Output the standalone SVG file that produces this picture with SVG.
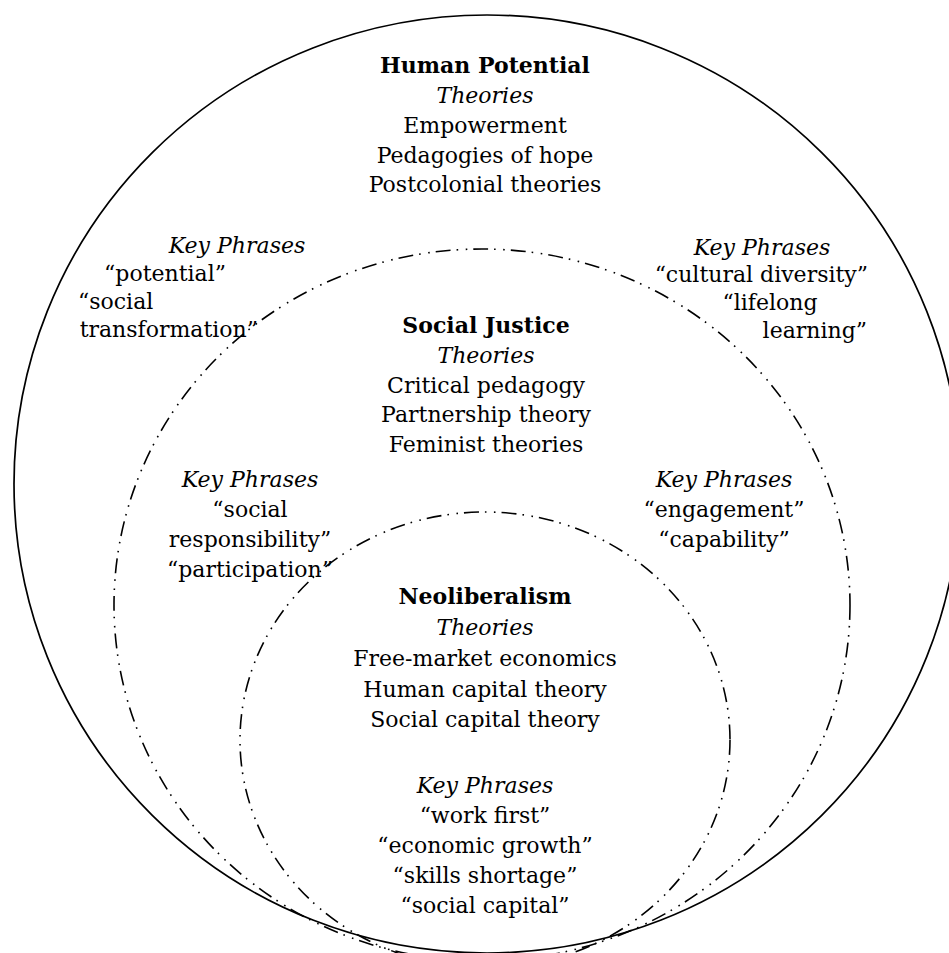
<svg xmlns="http://www.w3.org/2000/svg" width="949" height="953" viewBox="0 0 949 953">
<style>
  .bg { fill: #ffffff; }
  .solid { fill: none; stroke: #000; stroke-width: 1.7; }
  .dd { fill: none; stroke: #000; stroke-width: 1.6; stroke-dasharray: 15 6 1.6 7.5 1.6 6; }
  text { font-family: "DejaVu Serif", "Liberation Serif", serif; font-size: 22px; fill: #000; }
  .c { text-anchor: middle; }
  .e { text-anchor: end; }
  .s { text-anchor: start; }
  .b { font-weight: bold; }
  .i { font-style: italic; }
</style>
<rect class="bg" x="0" y="0" width="949" height="953"/>

<g id="human-potential">
  <ellipse class="solid" cx="487" cy="484" rx="473" ry="469"/>
  <text class="c b" x="485" y="73">Human Potential</text>
  <text class="c i" x="485" y="103">Theories</text>
  <text class="c" x="485" y="133">Empowerment</text>
  <text class="c" x="485" y="163">Pedagogies of hope</text>
  <text class="c" x="485" y="192">Postcolonial theories</text>
  <text class="c i" x="237" y="253">Key Phrases</text>
  <text class="e" x="226" y="281">“potential”</text>
  <text class="s" x="78" y="309">“social</text>
  <text class="e" x="258" y="337">transformation”</text>
  <text class="c i" x="762" y="255">Key Phrases</text>
  <text class="e" x="868" y="282">“cultural diversity”</text>
  <text class="c" x="770" y="310">“lifelong</text>
  <text class="e" x="867" y="338">learning”</text>
</g>

<g id="social-justice">
  <ellipse class="dd" cx="482" cy="605" rx="368" ry="356"/>
  <text class="c b" x="486" y="333">Social Justice</text>
  <text class="c i" x="486" y="363">Theories</text>
  <text class="c" x="486" y="393">Critical pedagogy</text>
  <text class="c" x="486" y="422">Partnership theory</text>
  <text class="c" x="486" y="452">Feminist theories</text>
  <text class="c i" x="250" y="487">Key Phrases</text>
  <text class="c" x="250" y="517">“social</text>
  <text class="c" x="250" y="547">responsibility”</text>
  <text class="c" x="250" y="577">“participation”</text>
  <text class="c i" x="724" y="487">Key Phrases</text>
  <text class="c" x="724" y="517">“engagement”</text>
  <text class="c" x="724" y="547">“capability”</text>
</g>

<g id="neoliberalism">
  <ellipse class="dd" cx="485" cy="740" rx="245" ry="228"/>
  <text class="c b" x="485" y="604">Neoliberalism</text>
  <text class="c i" x="485" y="635">Theories</text>
  <text class="c" x="485" y="666">Free-market economics</text>
  <text class="c" x="485" y="697">Human capital theory</text>
  <text class="c" x="485" y="727">Social capital theory</text>
  <text class="c i" x="485" y="793">Key Phrases</text>
  <text class="c" x="485" y="823">“work first”</text>
  <text class="c" x="485" y="853">“economic growth”</text>
  <text class="c" x="485" y="883">“skills shortage”</text>
  <text class="c" x="485" y="913">“social capital”</text>
</g>
</svg>
